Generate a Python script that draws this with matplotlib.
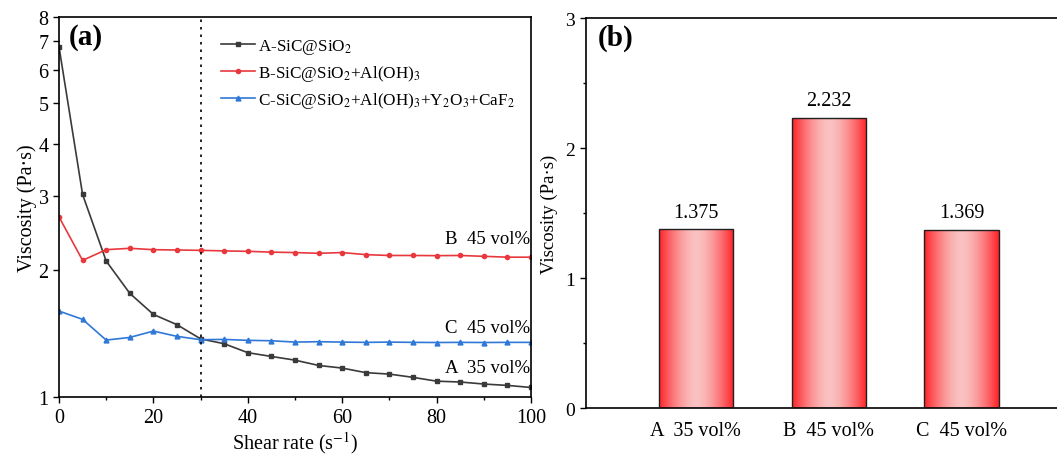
import numpy as np
import matplotlib
matplotlib.use('Agg')
import matplotlib.pyplot as plt
from matplotlib.ticker import FixedLocator, MultipleLocator

plt.rcParams['font.family'] = ['Liberation Serif', 'DejaVu Serif']
plt.rcParams['mathtext.fontset'] = 'stix'

# shear rate (s^-1)
shear = [0, 5, 10, 15, 20, 25, 30, 35, 40, 45, 50, 55, 60, 65, 70, 75, 80, 85, 90, 95, 100]
visc_A = [6.8, 3.03, 2.105, 1.764, 1.572, 1.486, 1.375, 1.339, 1.275, 1.249, 1.224,
          1.189, 1.172, 1.143, 1.134, 1.114, 1.091, 1.086, 1.074, 1.066, 1.054]
visc_B = [2.68, 2.113, 2.24, 2.257, 2.24, 2.236, 2.232, 2.225, 2.22, 2.21, 2.205,
          2.196, 2.205, 2.18, 2.17, 2.17, 2.168, 2.17, 2.16, 2.15, 2.15]
visc_C = [1.601, 1.53, 1.366, 1.386, 1.435, 1.394, 1.369, 1.371, 1.364, 1.361, 1.351,
          1.354, 1.351, 1.349, 1.351, 1.349, 1.348, 1.349, 1.348, 1.349, 1.349]
names = ['A-SiC@SiO$_2$', 'B-SiC@SiO$_2$+Al(OH)$_3$',
         'C-SiC@SiO$_2$+Al(OH)$_3$+Y$_2$O$_3$+CaF$_2$']
tags = ['A  35 vol%', 'B  45 vol%', 'C  45 vol%']
bar_vals = [1.375, 2.232, 1.369]

fig = plt.figure(figsize=(10.57, 4.56), dpi=100)
ax1 = fig.add_axes([0.0558, 0.127, 0.4466, 0.8335])
ax2 = fig.add_axes([0.554, 0.103, 0.45, 0.855])

# ---- panel (a)
ax1.plot(shear, visc_A, color='#3a3a3a', marker='s', ms=3, lw=1.2, label=names[0])
ax1.plot(shear, visc_B, color='#e8383d', marker='o', ms=3, lw=1.2, label=names[1])
ax1.plot(shear, visc_C, color='#2f78d8', marker='^', ms=3.5, lw=1.2, label=names[2])
ax1.axvline(30, color='black', ls=(0, (1.5, 3)), lw=1.2)
ax1.set_yscale('log')
ax1.set_ylim(1, 8)
ax1.set_xlim(0, 100)
ax1.yaxis.set_major_locator(FixedLocator([1, 2, 3, 4, 5, 6, 7, 8]))
ax1.yaxis.set_minor_locator(FixedLocator([]))
ax1.set_yticklabels(['1', '2', '3', '4', '5', '6', '7', '8'])
ax1.xaxis.set_major_locator(MultipleLocator(20))
ax1.xaxis.set_minor_locator(MultipleLocator(10))
ax1.tick_params(labelsize=14.5, direction='out', length=4, width=1)
ax1.tick_params(which='minor', length=2.5, width=1)
ax1.set_xlabel('Shear rate (s$^{-1}$)', fontsize=14.5, labelpad=2)
ax1.set_ylabel('Viscosity (Pa·s)', fontsize=14.5, labelpad=1)
for sp in ax1.spines.values():
    sp.set_linewidth(1.2)
ax1.text(0.02, 0.985, '(a)', transform=ax1.transAxes, fontsize=21,
         fontweight='bold', va='top', ha='left')
ax1.text(99.8, 2.38, tags[1], fontsize=13.5, ha='right', va='center')
ax1.text(99.8, 1.467, tags[2], fontsize=13.5, ha='right', va='center')
ax1.text(99.8, 1.178, tags[0], fontsize=13.5, ha='right', va='center')
leg = ax1.legend(loc='upper left', bbox_to_anchor=(0.322, 0.975), frameon=False,
                 fontsize=12.3, handlelength=2.0, handletextpad=0.15,
                 labelspacing=0.42, borderaxespad=0.2)

# ---- panel (b)
xpos = np.arange(1, len(bar_vals) + 1)
bars = ax2.bar(xpos, bar_vals, width=0.56, facecolor='none', edgecolor='#202020',
               lw=1.0, zorder=3)
grad = np.abs(np.linspace(-1, 1, 256)) ** 1.6
cols = np.zeros((1, 256, 3))
c_edge = np.array([1.0, 0.13, 0.15])
c_mid = np.array([0.98, 0.76, 0.76])
for i in range(256):
    cols[0, i] = c_mid + (c_edge - c_mid) * grad[i]
for b in bars:
    x0, y0 = b.get_x(), b.get_y()
    w, h = b.get_width(), b.get_height()
    im = ax2.imshow(cols, extent=[x0, x0 + w, y0, y0 + h], aspect='auto', zorder=2)
    im.set_clip_path(b)
for x, v in zip(xpos, bar_vals):
    ax2.text(x, v + 0.06, f'{v:.3f}', ha='center', va='bottom', fontsize=14.5)
ax2.set_xlim(0.17, 3.75)
ax2.set_ylim(0, 3)
ax2.set_xticks(xpos)
ax2.set_xticklabels(tags, fontsize=14.5)
ax2.yaxis.set_major_locator(MultipleLocator(1))
ax2.yaxis.set_minor_locator(MultipleLocator(0.5))
ax2.tick_params(axis='y', labelsize=14, direction='out', length=4, width=1)
ax2.tick_params(axis='y', which='minor', length=2.5, width=1)
ax2.tick_params(axis='x', length=0, pad=9)
ax2.set_ylabel('Viscosity (Pa·s)', fontsize=13.5, labelpad=5)
for sp in ax2.spines.values():
    sp.set_linewidth(1.2)
ax2.spines['right'].set_visible(False)
ax2.text(0.025, 0.985, '(b)', transform=ax2.transAxes, fontsize=21,
         fontweight='bold', va='top', ha='left')

fig.savefig('out.png', dpi=100)
